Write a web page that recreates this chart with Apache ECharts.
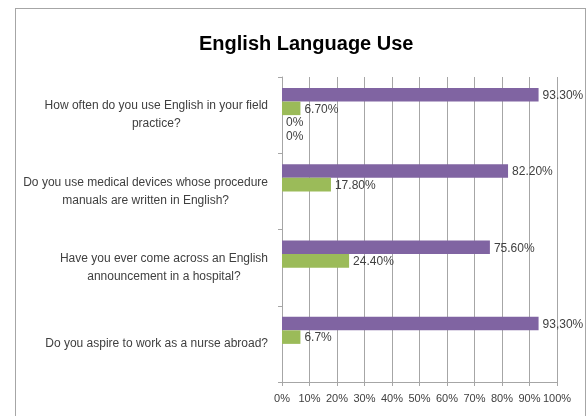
<!DOCTYPE html>
<html><head><meta charset="utf-8">
<script src="https://cdn.jsdelivr.net/npm/echarts@6/dist/echarts.min.js"></script>
<style>
html,body{margin:0;padding:0;background:#fff;}
#c{position:absolute;left:0;top:0;width:587px;height:416px;}
#f{position:absolute;left:15px;top:8px;width:569px;height:440px;border:1px solid #a6a6a6;pointer-events:none;}
</style></head>
<body><div id="c"></div><div id="f"></div>
<script>
const categories = [
  'How often do you use English in your field\npractice?',
  'Do you use medical devices whose procedure\nmanuals are written in English?',
  'Have you ever come across an English\nannouncement in a hospital?',
  'Do you aspire to work as a nurse abroad?'
];
const seriesA = [93.3, 82.2, 75.6, 93.3];
const seriesALabels = ['93.30%', '82.20%', '75.60%', '93,30%'];
const seriesB = [6.7, 17.8, 24.4, 6.7];
const seriesBLabels = ['6.70%', '17.80%', '24.40%', '6.7%'];
const seriesC = [0, '-', '-', '-'];
const seriesCLabels = ['0%', '', '', ''];
const seriesD = [0, '-', '-', '-'];
const seriesDLabels = ['0%', '', '', ''];
const xTicks = [0, 10, 20, 30, 40, 50, 60, 70, 80, 90, 100];

const FONT = '"Liberation Sans", Arial, sans-serif';
const TXT = '#404040';
const GRID = '#a6a6a6';

function mk(name, data, labels, color) {
  return {
    name: name, type: 'bar', data: data, barGap: '0%', barCategoryGap: '29%',
    itemStyle: { color: color },
    label: {
      show: true, position: 'right', distance: 4, color: TXT, fontSize: 12, fontFamily: FONT,
      offset: [0, 1],
      formatter: p => labels[p.dataIndex]
    },
    animation: false
  };
}

const chart = echarts.init(document.getElementById('c'), null, { renderer: 'canvas' });
chart.setOption({
  animation: false,
  title: {
    text: 'English Language Use', left: 194, top: 29,
    textStyle: { fontFamily: FONT, fontWeight: 'bold', fontSize: 20, color: '#000' }
  },
  grid: { left: 282, right: 30, top: 77, bottom: 34, containLabel: false },
  xAxis: {
    type: 'value', min: xTicks[0], max: xTicks[xTicks.length - 1], interval: 10,
    axisLine: { show: true, lineStyle: { color: GRID } },
    axisTick: { show: true, length: 4, lineStyle: { color: GRID } },
    splitLine: { show: true, lineStyle: { color: GRID } },
    axisLabel: { formatter: '{value}%', color: TXT, fontSize: 11, fontFamily: FONT, margin: 11 }
  },
  yAxis: {
    type: 'category', data: categories, inverse: true,
    axisLine: { show: true, lineStyle: { color: GRID } },
    axisTick: { show: true, length: 4, lineStyle: { color: GRID } },
    axisLabel: {
      margin: 14, color: TXT, fontSize: 12, fontFamily: FONT,
      formatter: v => v.split('\n').map(s => '{c|' + s + '}').join('\n'),
      rich: { c: { align: 'center', fontSize: 12, fontFamily: FONT, color: TXT, lineHeight: 18 } }
    }
  },
  series: [
    mk('A', seriesA, seriesALabels, '#8064A2'),
    mk('B', seriesB, seriesBLabels, '#9BBB59'),
    mk('C', seriesC, seriesCLabels, '#4BACC6'),
    mk('D', seriesD, seriesDLabels, '#F79646')
  ]
});
</script>
</body></html>
